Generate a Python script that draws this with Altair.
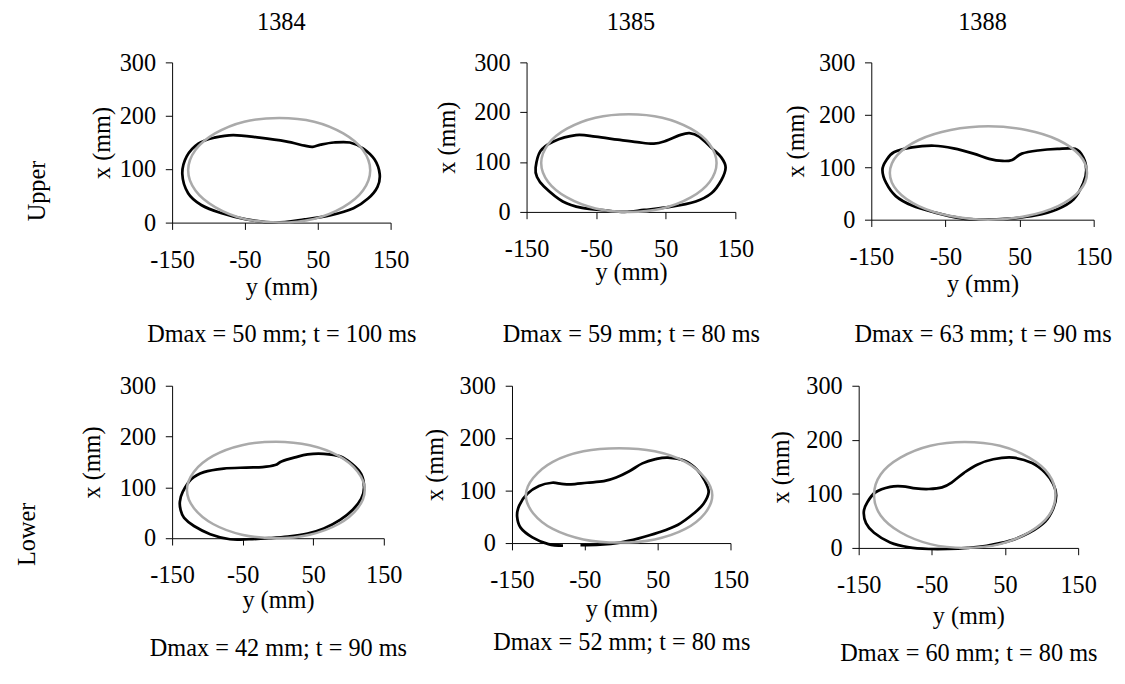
import altair as alt
import pandas as pd

FONT = "Liberation Serif"
FS = 25

# ---- data (y = lateral mm, x = forward mm) ----
UPPER_1384_GRAY_Y = [122, 112, 85, 45, -3, -51, -91, -118, -128, -118, -91, -51, -3, 45, 85, 112]
UPPER_1384_GRAY_X = [98, 136, 167, 189, 196, 189, 167, 136, 98, 60, 29, 7, 0, 7, 29, 60]
UPPER_1384_BLACK_Y = [-136, -130, -114, -92, -66, -30, 6, 32, 43, 54, 72, 94, 112, 128, 135, 132, 119, 99, 68, 32, -8, -48, -83, -110, -128]
UPPER_1384_BLACK_X = [91, 124, 148, 159, 164, 159, 152, 144, 142, 146, 150, 150, 139, 118, 91, 67, 45, 27, 14, 6, 0, 6, 18, 33, 55]

UPPER_1385_GRAY_Y = [123, 113, 86, 45, -3, -51, -92, -119, -129, -119, -92, -51, -3, 45, 86, 113]
UPPER_1385_GRAY_X = [98, 136, 167, 189, 196, 189, 167, 136, 98, 60, 29, 7, 0, 7, 29, 60]
UPPER_1385_BLACK_Y = [-137, -130, -112, -79, -51, -19, 9, 33, 51, 70, 84, 98, 116, 130, 136, 130, 116, 93, 56, 19, -9, -37, -70, -98, -125, -135]
UPPER_1385_BLACK_X = [89, 122, 141, 154, 151, 145, 140, 137, 143, 154, 158, 151, 128, 109, 89, 64, 38, 21, 10, 4, 0, 3, 8, 21, 51, 70]

UPPER_1388_GRAY_Y = [141, 131, 102, 59, 8, -43, -86, -115, -125, -115, -86, -43, 8, 59, 102, 131]
UPPER_1388_GRAY_X = [89, 123, 152, 171, 178, 171, 152, 123, 89, 55, 26, 7, 0, 7, 26, 55]
UPPER_1388_BLACK_Y = [-135, -130, -119, -95, -65, -39, -12, 9, 27, 40, 53, 75, 101, 125, 136, 140, 136, 123, 101, 71, 36, 1, -30, -65, -95, -117, -130]
UPPER_1388_BLACK_X = [95, 113, 129, 138, 141, 136, 126, 116, 112, 114, 126, 132, 135, 135, 119, 95, 70, 39, 20, 8, 2, 0, 3, 14, 27, 45, 70]

LOWER_1384_GRAY_Y = [123, 113, 86, 45, -3, -51, -92, -119, -129, -119, -92, -51, -3, 45, 86, 113]
LOWER_1384_GRAY_X = [95, 131, 162, 183, 190, 183, 162, 131, 95, 59, 28, 7, 0, 7, 28, 59]
LOWER_1384_BLACK_Y = [-139, -135, -123, -105, -77, -45, -22, -4, 5, 24, 42, 65, 88, 106, 118, 122, 118, 106, 88, 65, 42, 14, -13, -41, -68, -96, -119, -133, -138]
LOWER_1384_BLACK_X = [72, 91, 116, 130, 137, 139, 140, 144, 151, 159, 165, 166, 161, 145, 126, 100, 78, 56, 36, 19, 9, 3, 0, -2, -2, 8, 24, 40, 56]

LOWER_1385_GRAY_Y = [125, 115, 88, 46, -3, -52, -94, -121, -131, -121, -94, -52, -3, 46, 88, 115]
LOWER_1385_GRAY_X = [91, 124, 155, 175, 181, 175, 155, 124, 91, 57, 27, 7, 1, 7, 27, 57]
LOWER_1385_BLACK_Y = [-56, -29, -2, 24, 51, 78, 100, 113, 120, 115, 104, 87, 64, 47, 29, 11, -7, -24, -47, -69, -82, -95, -113, -129, -140, -143, -138, -122, -100, -80]
LOWER_1385_BLACK_X = [-4, -3, 1, 9, 20, 35, 57, 75, 97, 118, 140, 157, 163, 160, 152, 137, 125, 118, 115, 112, 113, 115, 109, 94, 72, 51, 29, 11, -2, -5]

LOWER_1388_GRAY_Y = [119, 110, 83, 43, -5, -52, -93, -120, -129, -120, -93, -52, -5, 43, 83, 110]
LOWER_1388_GRAY_X = [98, 136, 167, 189, 196, 189, 167, 136, 98, 60, 29, 7, 0, 7, 29, 60]
LOWER_1388_BLACK_Y = [-143, -138, -127, -107, -90, -72, -54, -36, -23, -6, 12, 34, 61, 87, 105, 116, 120, 116, 105, 83, 56, 25, -1, -28, -54, -81, -107, -129, -140]
LOWER_1388_BLACK_X = [67, 85, 103, 113, 114, 110, 109, 112, 121, 139, 154, 164, 167, 157, 139, 118, 97, 73, 49, 28, 13, 4, 0, -2, -2, 1, 10, 28, 46]

COLUMNS = ["1384", "1385", "1388"]
ROWS = ["Upper", "Lower"]
CAPTIONS_UPPER = ["Dmax = 50 mm; t = 100 ms", "Dmax = 59 mm; t = 80 ms", "Dmax = 63 mm; t = 90 ms"]
CAPTIONS_LOWER = ["Dmax = 42 mm; t = 90 ms", "Dmax = 52 mm; t = 80 ms", "Dmax = 60 mm; t = 80 ms"]
X_TICKS = [-150, -50, 50, 150]
Y_TICKS = [0, 100, 200, 300]


def panel(gy, gx, by, bx, w, h, caption, head=None, closed=True,
          line_h=48, xtp=2, ytp=0):
    g = pd.DataFrame({"y": gy, "x": gx, "i": list(range(len(gy)))})
    b = pd.DataFrame({"y": by, "x": bx, "i": list(range(len(by)))})
    xaxis = alt.Axis(
        values=X_TICKS, title=["y (mm)", caption], grid=False,
        labelExpr="'' + datum.value", labelFont=FONT, labelFontSize=FS, labelColor="black",
        labelPadding=19, labelFlush=False, labelOverlap=False,
        tickSize=7, tickColor="black", domainColor="black", domainWidth=1, tickWidth=1,
        titleFont=FONT, titleFontSize=FS, titleFontWeight="normal", titleColor="black",
        titlePadding=xtp, titleLineHeight=line_h,
    )
    yaxis = alt.Axis(
        values=Y_TICKS, title="x (mm)", grid=False,
        labelFont=FONT, labelFontSize=FS, labelColor="black",
        labelPadding=10, labelFlush=False, labelOverlap=False,
        tickSize=7, tickColor="black", domainColor="black", domainWidth=1, tickWidth=1,
        titleFont=FONT, titleFontSize=FS, titleFontWeight="normal", titleColor="black",
        titlePadding=ytp,
    )
    xenc = alt.X("y:Q", scale=alt.Scale(domain=[-150, 150], nice=False, zero=False), axis=xaxis)
    yenc = alt.Y("x:Q", scale=alt.Scale(domain=[0, 300], nice=False, zero=False), axis=yaxis)
    black = alt.Chart(b).mark_line(
        interpolate="cardinal-closed" if closed else "cardinal", color="black", strokeWidth=2.8
    ).encode(x=xenc, y=yenc, order="i:Q")
    gray = alt.Chart(g).mark_line(
        interpolate="cardinal-closed", color="#aaaaaa", strokeWidth=2.6
    ).encode(x=xenc, y=yenc, order="i:Q")
    ch = alt.layer(black, gray).properties(width=w, height=h)
    if head:
        ch = ch.properties(title=alt.Title(head, anchor="middle", offset=16, font=FONT,
                                           fontSize=FS, fontWeight="normal", color="black"))
    return ch


p1 = panel(UPPER_1384_GRAY_Y, UPPER_1384_GRAY_X, UPPER_1384_BLACK_Y, UPPER_1384_BLACK_X, 225, 165,
           CAPTIONS_UPPER[0], COLUMNS[0], line_h=48, xtp=3, ytp=5)
p2 = panel(UPPER_1385_GRAY_Y, UPPER_1385_GRAY_X, UPPER_1385_BLACK_Y, UPPER_1385_BLACK_X, 215, 154,
           CAPTIONS_UPPER[1], COLUMNS[1], line_h=63, xtp=-1, ytp=15)
p3 = panel(UPPER_1388_GRAY_Y, UPPER_1388_GRAY_X, UPPER_1388_BLACK_Y, UPPER_1388_BLACK_X, 229, 162,
           CAPTIONS_UPPER[2], COLUMNS[2], line_h=51, xtp=3, ytp=10)
p4 = panel(LOWER_1384_GRAY_Y, LOWER_1384_GRAY_X, LOWER_1384_BLACK_Y, LOWER_1384_BLACK_X, 218, 157,
           CAPTIONS_LOWER[0], line_h=50, xtp=0, ytp=15.5)
p5 = panel(LOWER_1385_GRAY_Y, LOWER_1385_GRAY_X, LOWER_1385_BLACK_Y, LOWER_1385_BLACK_X, 225, 162,
           CAPTIONS_LOWER[1], closed=False, line_h=34, xtp=5, ytp=12.5)
p6 = panel(LOWER_1388_GRAY_Y, LOWER_1388_GRAY_X, LOWER_1388_BLACK_Y, LOWER_1388_BLACK_X, 226, 167,
           CAPTIONS_LOWER[2], line_h=38, xtp=7, ytp=13)


def row_title(text, off, dx):
    return alt.Title(text, orient="left", anchor="middle", offset=off, dx=dx, font=FONT,
                     fontSize=FS, fontWeight="normal", color="black")


row1 = alt.hconcat(p1, p2, p3, spacing=140, bounds="flush", title=row_title(ROWS[0], 41.5, -13))
row2 = alt.hconcat(p4, p5, p6, spacing=132, bounds="flush", title=row_title(ROWS[1], 41.5, -15))

chart = alt.vconcat(row1, row2, spacing=29).properties(
    padding={"left": 7, "top": -7, "right": 5, "bottom": 5}
).configure_view(strokeOpacity=0)

chart.save("out.html", embed_options={"renderer": "svg", "actions": False})
